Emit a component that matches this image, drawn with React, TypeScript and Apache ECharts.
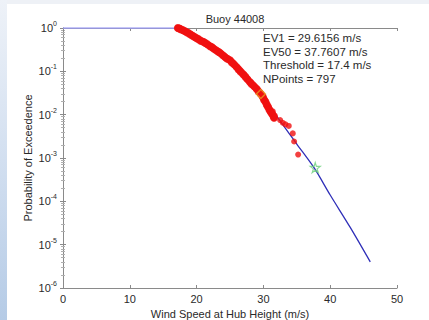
import React, { useEffect, useRef } from "react";
import * as echarts from "echarts";

const title = "Buoy 44008";
const annotations = ["EV1 = 29.6156 m/s", "EV50 = 37.7607 m/s", "Threshold = 17.4 m/s", "NPoints = 797"];
const xTicks = [0, 10, 20, 30, 40, 50];
const yExponents = [0, -1, -2, -3, -4, -5, -6];

const flatLine: [number, number][] = [
  [0, 1],
  [17.4, 1],
];
const fitLine: [number, number][] = [
  [17.4, 1], [20, 0.58], [22.5, 0.33], [25, 0.17], [27.5, 0.072], [30, 0.026],
  [32.5, 0.0072], [35, 0.0021], [37.6, 0.00059], [40, 0.00014], [43, 0.000025], [46, 0.000004],
];
// dense part of the observed exceedance curve (overlapping markers)
const observedDense: [number, number][] = [
  [17.2, 1.0], [17.4, 0.97], [17.6, 0.94], [17.9, 0.9], [18.2, 0.85], [18.5, 0.8], [18.8, 0.76],
  [19.1, 0.71], [19.4, 0.66], [19.7, 0.62], [20, 0.58], [20.3, 0.55], [20.6, 0.51], [21, 0.48],
  [21.3, 0.45], [21.6, 0.42], [22, 0.38], [22.3, 0.36], [22.6, 0.33], [23, 0.3], [23.3, 0.28],
  [23.6, 0.26], [24, 0.23], [24.3, 0.21], [24.6, 0.195], [25, 0.18], [25.3, 0.16], [25.6, 0.145],
  [26, 0.125], [26.3, 0.11], [26.6, 0.098], [27, 0.085], [27.3, 0.075], [27.6, 0.066], [28, 0.056],
  [28.3, 0.05], [28.6, 0.045], [29, 0.039], [29.3, 0.034], [29.6, 0.03], [29.9, 0.026], [30.1, 0.022],
  [30.3, 0.02], [30.5, 0.017], [30.7, 0.015], [30.9, 0.013], [31.1, 0.0115], [31.3, 0.0105],
  [31.5, 0.0092], [31.6, 0.0085],
];
// sparse tail of the observed points
const observedTail: [number, number][] = [
  [31.4, 0.012], [31.7, 0.0095], [32.5, 0.0075], [32.9, 0.0065], [33.3, 0.006], [33.8, 0.0055],
  [34.4, 0.0037], [34.6, 0.0024], [35.2, 0.0012],
];
const ev1Point: [number, number][] = [[29.6156, 0.03]];
const ev50Point: [number, number][] = [[37.7607, 0.0006]];

const starPath =
  "path://M50,0 L61,35 L98,35 L68,57 L79,91 L50,70 L21,91 L32,57 L2,35 L39,35 Z";

export default function App() {
  const ref = useRef<HTMLDivElement>(null);
  useEffect(() => {
    if (!ref.current) return;
    const chart = echarts.init(ref.current, null, { renderer: "svg" });
    const font = "Liberation Sans, Arial, sans-serif";
    const textColor = "#2a2a2a";
    const boxColor = "#8a8a8a";
    const red = "#f01010";
    chart.setOption({
      animation: false,
      backgroundColor: "transparent",
      title: {
        text: title,
        left: 230,
        textAlign: "center",
        top: 8,
        textStyle: { fontFamily: font, fontSize: 11, fontWeight: "normal", color: textColor },
      },
      grid: { left: 63, right: 32, top: 28, bottom: 32, containLabel: false, outerBoundsMode: "none" },
      xAxis: [
        {
          type: "value",
          min: 0,
          max: 50,
          interval: 10,
          name: "Wind Speed at Hub Height (m/s)",
          nameLocation: "middle",
          nameGap: 20,
          nameMoveOverlap: false,
          nameTextStyle: { fontFamily: font, fontSize: 11, color: textColor },
          axisLine: { show: true, lineStyle: { color: boxColor, width: 1 } },
          axisTick: { show: true, inside: true, length: 3, lineStyle: { color: boxColor } },
          axisLabel: {
            fontFamily: font,
            fontSize: 11,
            color: textColor,
            margin: 5,
            formatter: (v: number) => (xTicks.includes(v) ? String(v) : ""),
          },
          splitLine: { show: false },
        },
        {
          type: "value",
          position: "top",
          min: 0,
          max: 50,
          interval: 10,
          axisLine: { show: true, lineStyle: { color: boxColor, width: 1 } },
          axisTick: { show: true, inside: true, length: 3, lineStyle: { color: boxColor } },
          axisLabel: { show: false },
          splitLine: { show: false },
        },
      ],
      yAxis: [
        {
          type: "log",
          logBase: 10,
          min: 1e-6,
          max: 1,
          interval: 1,
          name: "Probability of Exceedence",
          nameLocation: "middle",
          nameGap: 30,
          nameMoveOverlap: false,
          nameTextStyle: { fontFamily: font, fontSize: 11, color: textColor },
          axisLine: { show: true, lineStyle: { color: boxColor, width: 1 } },
          axisTick: { show: true, inside: true, length: 3, lineStyle: { color: boxColor } },
          minorTick: { show: true, splitNumber: 9, length: 2, lineStyle: { color: "#b0b0b0" } },
          axisLabel: {
            fontFamily: font,
            color: textColor,
            margin: 6,
            formatter: (v: number) => {
              const e = Math.round(Math.log10(v));
              if (!yExponents.includes(e)) return "";
              return `{b|10}{s|${e}}`;
            },
            rich: {
              b: { fontFamily: font, fontSize: 11, color: textColor },
              s: { fontFamily: font, fontSize: 7, color: textColor, padding: [0, 0, 9, 0] },
            },
          },
          splitLine: { show: false },
        },
        {
          type: "log",
          logBase: 10,
          min: 1e-6,
          max: 1,
          interval: 1,
          position: "right",
          axisLine: { show: true, lineStyle: { color: boxColor, width: 1 } },
          axisTick: { show: true, inside: true, length: 3, lineStyle: { color: boxColor } },
          minorTick: { show: true, splitNumber: 9, length: 2, lineStyle: { color: "#b0b0b0" } },
          axisLabel: { show: false },
          splitLine: { show: false },
        },
      ],
      graphic: [
        {
          type: "text",
          left: 263,
          top: 31,
          style: {
            text: annotations.join("\n"),
            fontFamily: font,
            fontSize: 11.5,
            lineHeight: 13.7,
            fill: textColor,
          },
          z: 100,
        },
      ],
      series: [
        {
          type: "line",
          data: flatLine,
          showSymbol: false,
          lineStyle: { color: "#9a9af2", width: 1.3 },
          z: 2,
        },
        {
          type: "line",
          data: fitLine,
          showSymbol: false,
          smooth: 0.3,
          lineStyle: { color: "#2f2fb8", width: 1.3 },
          z: 2,
        },
        {
          type: "line",
          data: observedDense,
          showSymbol: false,
          lineStyle: { color: red, width: 7, cap: "round", join: "round" },
          z: 3,
        },
        {
          type: "scatter",
          data: observedDense,
          symbol: "circle",
          symbolSize: 8,
          itemStyle: { color: red },
          z: 3,
        },
        {
          type: "scatter",
          data: observedTail,
          symbol: "circle",
          symbolSize: 6,
          itemStyle: { color: red },
          z: 3,
        },
        {
          type: "scatter",
          data: ev1Point,
          symbol: "diamond",
          symbolSize: 9,
          itemStyle: { color: "rgba(0,0,0,0)", borderColor: "#e89a20", borderWidth: 1.5 },
          z: 4,
        },
        {
          type: "scatter",
          data: ev50Point,
          symbol: starPath,
          symbolSize: 10,
          itemStyle: { color: "rgba(0,0,0,0)", borderColor: "#6ccf7a", borderWidth: 1.2 },
          z: 4,
        },
      ],
    });
    return () => chart.dispose();
  }, []);

  return (
    <div
      style={{
        position: "absolute",
        left: 0,
        top: 0,
        width: 429,
        height: 320,
        background: "#ffffff",
        overflow: "hidden",
      }}
    >
      <div
        style={{
          position: "absolute",
          left: 0,
          top: 0,
          width: 429,
          height: 4,
          background: "#eef1f6",
        }}
      />
      <div
        style={{
          position: "absolute",
          left: 0,
          top: 0,
          width: 7,
          height: 320,
          background: "linear-gradient(to bottom, #eef2f8 0%, #d2dff0 50%, #b5cbe6 100%)",
        }}
      />
      <div ref={ref} style={{ position: "absolute", left: 0, top: 0, width: 429, height: 320 }} />
    </div>
  );
}
